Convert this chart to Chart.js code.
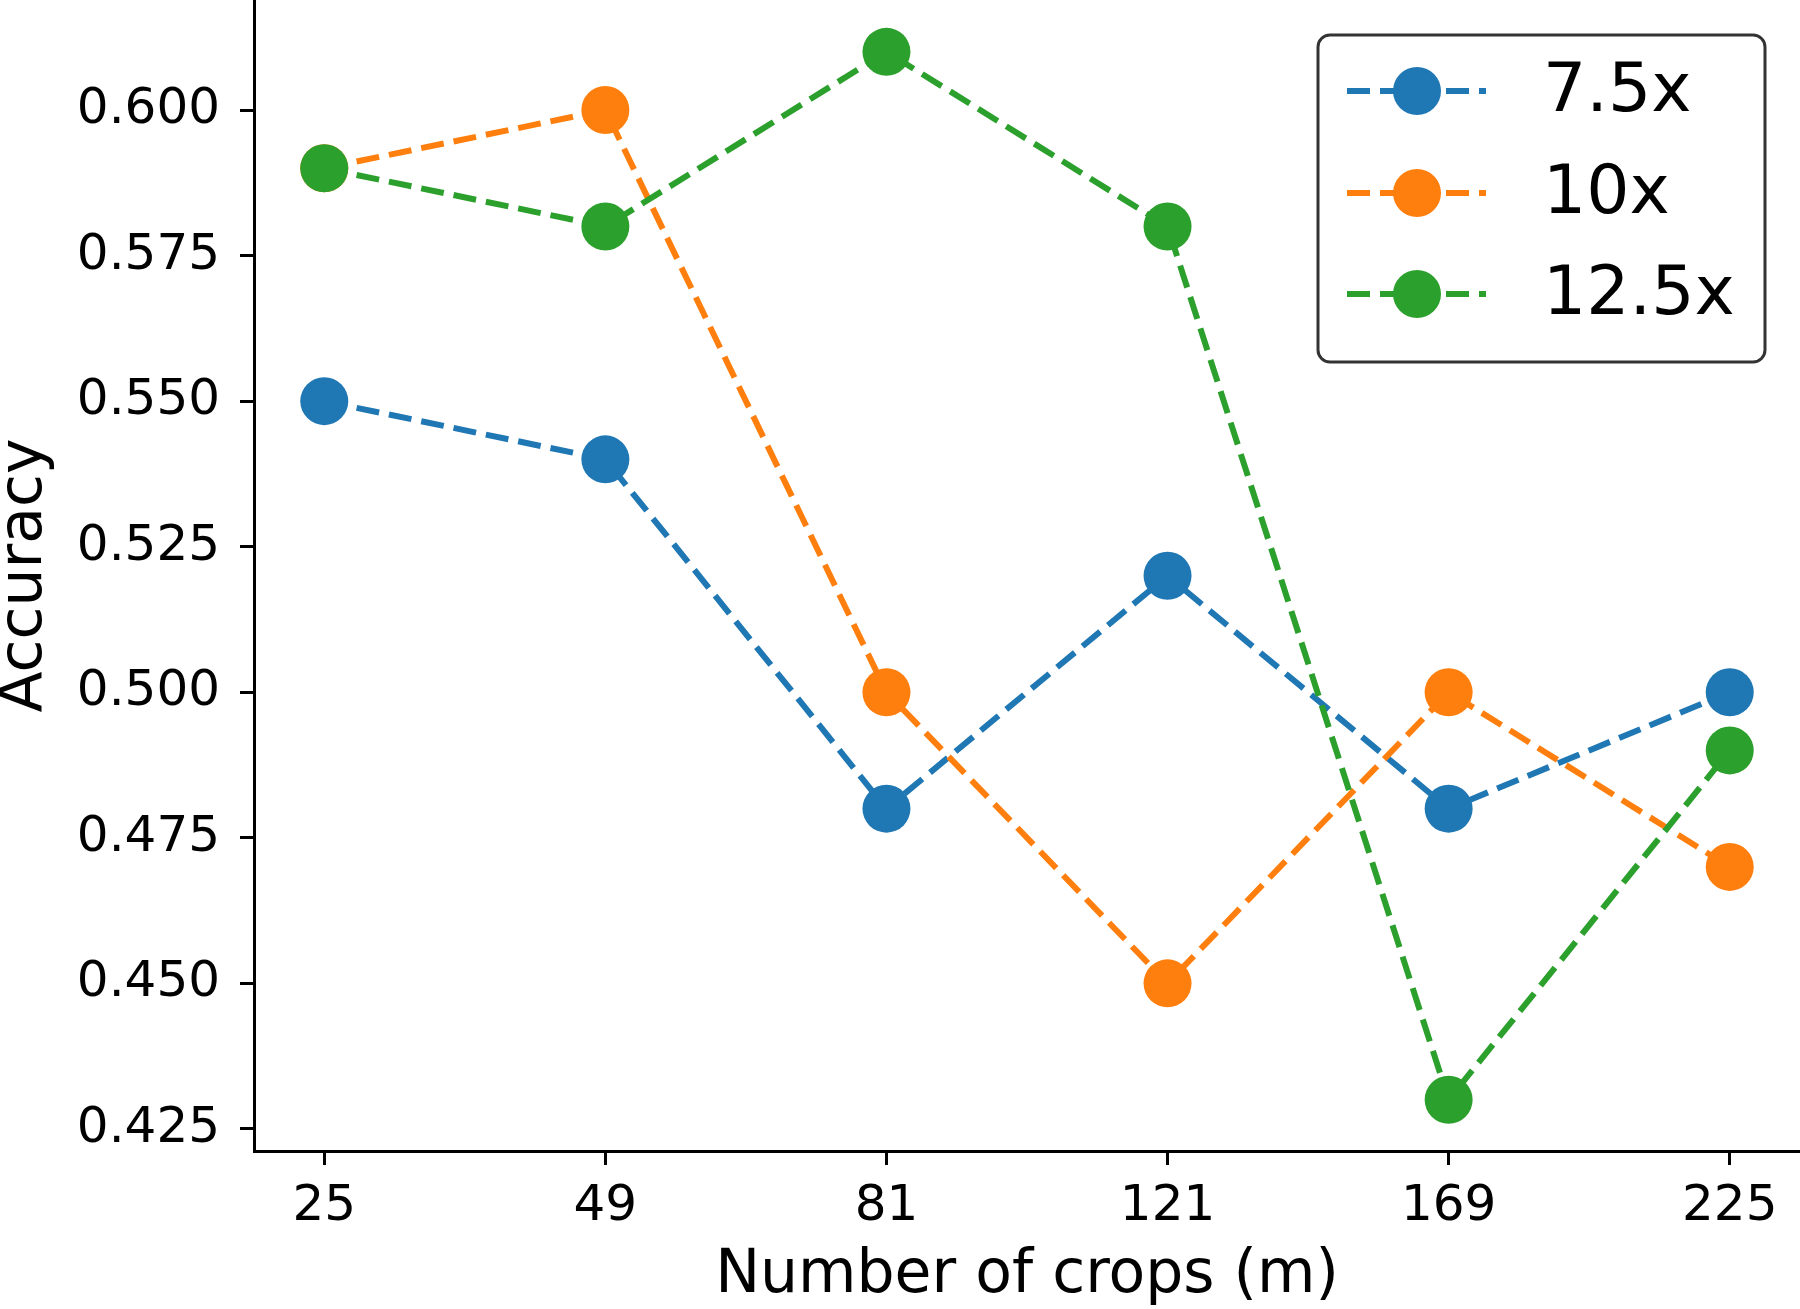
<!DOCTYPE html>
<html>
<head>
<meta charset="utf-8">
<script src="https://cdn.jsdelivr.net/npm/chart.js@4.4.1/dist/chart.umd.min.js"></script>
<style>
  body { margin: 0; background: white; }
</style>
</head>
<body>
<canvas id="myChart" width="1800" height="1309"></canvas>
<script>
// data
const crops = ["25", "49", "81", "121", "169", "225"];
const acc75 = [0.55, 0.54, 0.48, 0.52, 0.48, 0.50];
const acc10 = [0.59, 0.60, 0.50, 0.45, 0.50, 0.47];
const acc125 = [0.59, 0.58, 0.61, 0.58, 0.43, 0.49];
const yTicks = [0.425, 0.45, 0.475, 0.5, 0.525, 0.55, 0.575, 0.6];

const FONT = "'DejaVu Sans'";
const dash = [23, 10];

function makeSet(label, values, color, order) {
  return {
    label: label,
    data: values.map((v, i) => ({ x: i, y: v })),
    borderColor: color,
    backgroundColor: color,
    borderWidth: 6,
    borderDash: dash,
    pointRadius: 24,
    pointHoverRadius: 24,
    pointBorderWidth: 0,
    pointBackgroundColor: color,
    tension: 0,
    clip: false,
    order: order
  };
}

const datasets = [
  makeSet("7.5x", acc75, "#1f77b4", 3),
  makeSet("10x", acc10, "#ff7f0e", 2),
  makeSet("12.5x", acc125, "#2ca02c", 1)
];

// legend box like matplotlib, drawn inside the plot
const boxLegend = {
  id: "boxLegend",
  afterDraw(chart) {
    const ctx = chart.ctx;
    const x0 = 1318, y0 = 35, w = 447, h = 327, r = 12;
    ctx.save();
    ctx.beginPath();
    ctx.roundRect(x0, y0, w, h, r);
    ctx.fillStyle = "white";
    ctx.fill();
    ctx.lineWidth = 3;
    ctx.strokeStyle = "rgba(0,0,0,0.8)";
    ctx.stroke();

    const rows = [91, 193, 294];
    datasets.forEach((ds, i) => {
      const y = rows[i];
      ctx.beginPath();
      ctx.setLineDash(dash);
      ctx.lineWidth = ds.borderWidth;
      ctx.strokeStyle = ds.borderColor;
      ctx.moveTo(1347, y);
      ctx.lineTo(1486, y);
      ctx.stroke();
      ctx.setLineDash([]);
      ctx.beginPath();
      ctx.arc(1417, y, 24, 0, Math.PI * 2);
      ctx.fillStyle = ds.borderColor;
      ctx.fill();
      ctx.fillStyle = "black";
      ctx.font = "68px " + FONT;
      ctx.textBaseline = "middle";
      ctx.textAlign = "left";
      ctx.fillText(ds.label, 1543, y + 2);
    });
    ctx.restore();
  }
};

const config = {
  type: "line",
  data: { datasets },
  options: {
    responsive: false,
    animation: false,
    events: [],
    layout: { padding: 0, autoPadding: false },
    plugins: { legend: { display: false }, tooltip: { enabled: false } },
    scales: {
      x: {
        type: "linear",
        min: -0.25,
        max: 5.25,
        afterBuildTicks: (scale) => {
          scale.ticks = crops.map((c, i) => ({ value: i }));
        },
        afterFit: (scale) => {
          scale.height = 158;
          scale.paddingLeft = 0;
          scale.paddingRight = 0;
        },
        ticks: {
          callback: (v) => crops[v],
          color: "black",
          font: { family: FONT, size: 50 },
          padding: 12,
          maxRotation: 0
        },
        grid: {
          drawOnChartArea: false,
          color: "black",
          tickLength: 14,
          tickWidth: 3
        },
        border: { display: true, color: "black", width: 3 },
        title: {
          display: true,
          text: "Number of crops (m)",
          color: "black",
          font: { family: FONT, size: 60, lineHeight: 1 },
          padding: { top: 0, bottom: 3 }
        }
      },
      y: {
        type: "linear",
        min: 0.4212,
        max: 0.6189,
        afterBuildTicks: (scale) => {
          scale.ticks = yTicks.map((v) => ({ value: v }));
        },
        afterFit: (scale) => {
          scale.width = 254;
          scale.paddingTop = 0;
          scale.paddingBottom = 0;
        },
        ticks: {
          callback: (v) => Number(v).toFixed(3),
          color: "black",
          font: { family: FONT, size: 50 },
          padding: 20
        },
        grid: {
          drawOnChartArea: false,
          color: "black",
          tickLength: 14,
          tickWidth: 3
        },
        border: { display: true, color: "black", width: 3 },
        title: {
          display: true,
          text: "Accuracy",
          color: "black",
          font: { family: FONT, size: 60, lineHeight: 0.8 },
          padding: { top: 1, bottom: 0 }
        }
      }
    }
  },
  plugins: [boxLegend]
};

new Chart(document.getElementById("myChart"), config);
</script>
</body>
</html>
